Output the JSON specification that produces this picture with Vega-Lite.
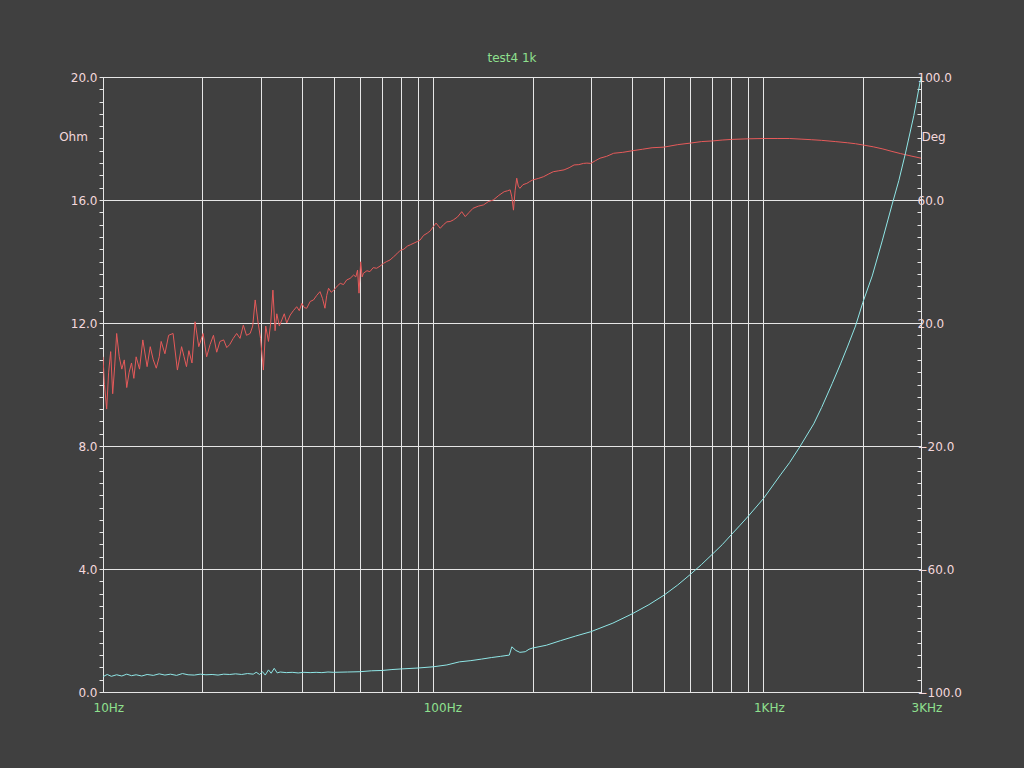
{
  "$schema": "https://vega.github.io/schema/vega-lite/v6.json",
  "width": 818,
  "height": 615,
  "autosize": {"type": "none"},
  "padding": {"left": 103, "top": 77, "right": 103, "bottom": 76},
  "background": "#404040",
  "title": {"text": "test4 1k", "color": "#8fe08f", "font": "DejaVu Sans", "fontSize": 12, "fontWeight": "normal", "offset": 6},
  "config": {
    "view": {"stroke": "#e6e6e6", "strokeWidth": 1},
    "axis": {"labelFont": "DejaVu Sans", "titleFont": "DejaVu Sans", "labelFontSize": 12, "titleFontSize": 12, "titleFontWeight": "normal", "labelOverlap": false, "labelFlush": false, "labelBound": false}
  },
  "datasets": {
    "ohm": [
      {"f": 10.0, "v": 10.9}, {"f": 10.1, "v": 10.0}, {"f": 10.26, "v": 9.2}, {"f": 10.4, "v": 10.4}, {"f": 10.55, "v": 11.07},
      {"f": 10.7, "v": 9.7}, {"f": 10.85, "v": 10.6}, {"f": 11.0, "v": 11.66}, {"f": 11.2, "v": 10.9}, {"f": 11.4, "v": 10.5},
      {"f": 11.6, "v": 10.8}, {"f": 11.8, "v": 9.9}, {"f": 12.0, "v": 10.4}, {"f": 12.2, "v": 10.7}, {"f": 12.4, "v": 10.2},
      {"f": 12.6, "v": 10.9}, {"f": 12.9, "v": 10.5}, {"f": 13.2, "v": 11.45}, {"f": 13.6, "v": 10.58}, {"f": 13.9, "v": 11.23},
      {"f": 14.2, "v": 10.8}, {"f": 14.5, "v": 10.53}, {"f": 14.8, "v": 10.9}, {"f": 15.0, "v": 11.4}, {"f": 15.4, "v": 11.0},
      {"f": 15.8, "v": 11.6}, {"f": 16.3, "v": 11.66}, {"f": 16.8, "v": 10.47}, {"f": 17.3, "v": 11.23}, {"f": 17.6, "v": 10.9},
      {"f": 17.9, "v": 10.58}, {"f": 18.2, "v": 11.1}, {"f": 18.6, "v": 10.7}, {"f": 19.0, "v": 12.04}, {"f": 19.5, "v": 11.23},
      {"f": 20.1, "v": 11.66}, {"f": 20.6, "v": 10.9}, {"f": 21.1, "v": 11.3}, {"f": 21.6, "v": 11.6}, {"f": 22.1, "v": 11.05},
      {"f": 22.6, "v": 11.4}, {"f": 23.2, "v": 11.45}, {"f": 23.7, "v": 11.2}, {"f": 24.2, "v": 11.3}, {"f": 24.8, "v": 11.5},
      {"f": 25.4, "v": 11.66}, {"f": 26.0, "v": 11.5}, {"f": 26.6, "v": 11.93}, {"f": 27.2, "v": 11.6}, {"f": 27.9, "v": 11.66},
      {"f": 28.4, "v": 11.9}, {"f": 28.9, "v": 12.75}, {"f": 29.5, "v": 12.0}, {"f": 30.0, "v": 11.5}, {"f": 30.6, "v": 10.47},
      {"f": 31.1, "v": 11.9}, {"f": 31.7, "v": 11.4}, {"f": 32.2, "v": 12.0}, {"f": 32.7, "v": 13.07}, {"f": 33.2, "v": 11.75},
      {"f": 33.6, "v": 12.3}, {"f": 34.2, "v": 11.9}, {"f": 34.8, "v": 12.1}, {"f": 35.4, "v": 12.3}, {"f": 36.0, "v": 12.0},
      {"f": 36.9, "v": 12.26}, {"f": 37.7, "v": 12.4}, {"f": 38.6, "v": 12.53}, {"f": 39.3, "v": 12.4}, {"f": 40.0, "v": 12.64},
      {"f": 40.7, "v": 12.5}, {"f": 41.4, "v": 12.48}, {"f": 42.4, "v": 12.7}, {"f": 43.4, "v": 12.75}, {"f": 44.4, "v": 12.9},
      {"f": 45.4, "v": 13.02}, {"f": 46.2, "v": 12.8}, {"f": 47.0, "v": 12.48}, {"f": 47.6, "v": 12.9}, {"f": 48.2, "v": 13.13},
      {"f": 49.1, "v": 13.0}, {"f": 50.0, "v": 13.07}, {"f": 51.2, "v": 13.2}, {"f": 52.3, "v": 13.29}, {"f": 53.5, "v": 13.25},
      {"f": 54.7, "v": 13.4}, {"f": 56.0, "v": 13.45}, {"f": 57.4, "v": 13.56}, {"f": 58.3, "v": 13.5}, {"f": 59.0, "v": 13.72},
      {"f": 59.6, "v": 12.97}, {"f": 60.3, "v": 13.99}, {"f": 60.9, "v": 13.5}, {"f": 61.5, "v": 13.62}, {"f": 63.0, "v": 13.7},
      {"f": 64.3, "v": 13.67}, {"f": 65.8, "v": 13.8}, {"f": 67.4, "v": 13.78}, {"f": 69.0, "v": 13.85}, {"f": 70.7, "v": 13.94},
      {"f": 72.3, "v": 14.0}, {"f": 74.0, "v": 14.05}, {"f": 75.8, "v": 14.15}, {"f": 77.6, "v": 14.25}, {"f": 79.4, "v": 14.36},
      {"f": 81.5, "v": 14.4}, {"f": 83.5, "v": 14.5}, {"f": 85.5, "v": 14.55}, {"f": 87.5, "v": 14.6}, {"f": 89.5, "v": 14.65},
      {"f": 91.3, "v": 14.7}, {"f": 93.5, "v": 14.85}, {"f": 95.9, "v": 14.92}, {"f": 98.0, "v": 15.0}, {"f": 100, "v": 15.13},
      {"f": 102, "v": 15.25}, {"f": 105, "v": 15.08}, {"f": 107.5, "v": 15.2}, {"f": 110, "v": 15.29}, {"f": 112.5, "v": 15.3},
      {"f": 115, "v": 15.35}, {"f": 118.5, "v": 15.45}, {"f": 122, "v": 15.62}, {"f": 125, "v": 15.46}, {"f": 128.5, "v": 15.6},
      {"f": 132, "v": 15.73}, {"f": 137, "v": 15.8}, {"f": 142, "v": 15.84}, {"f": 147, "v": 15.95}, {"f": 152, "v": 16.0},
      {"f": 158, "v": 16.15}, {"f": 164, "v": 16.27}, {"f": 168, "v": 16.3}, {"f": 171, "v": 16.33}, {"f": 173, "v": 16.1},
      {"f": 175, "v": 15.67}, {"f": 177, "v": 16.3}, {"f": 179, "v": 16.71}, {"f": 181, "v": 16.45}, {"f": 183, "v": 16.38},
      {"f": 187, "v": 16.5}, {"f": 192, "v": 16.54}, {"f": 196, "v": 16.6}, {"f": 200, "v": 16.65}, {"f": 208, "v": 16.7},
      {"f": 216, "v": 16.76}, {"f": 224, "v": 16.85}, {"f": 231, "v": 16.92}, {"f": 240, "v": 16.95}, {"f": 249, "v": 16.98},
      {"f": 258, "v": 17.05}, {"f": 267, "v": 17.14}, {"f": 276, "v": 17.15}, {"f": 285, "v": 17.19}, {"f": 292, "v": 17.2},
      {"f": 300, "v": 17.19}, {"f": 310, "v": 17.28}, {"f": 320, "v": 17.36}, {"f": 335, "v": 17.42}, {"f": 352, "v": 17.52},
      {"f": 375, "v": 17.55}, {"f": 400, "v": 17.6}, {"f": 430, "v": 17.65}, {"f": 460, "v": 17.7}, {"f": 500, "v": 17.72},
      {"f": 550, "v": 17.8}, {"f": 600, "v": 17.85}, {"f": 650, "v": 17.9}, {"f": 700, "v": 17.92}, {"f": 750, "v": 17.95},
      {"f": 800, "v": 17.97}, {"f": 900, "v": 17.99}, {"f": 1000, "v": 18.0}, {"f": 1100, "v": 18.0}, {"f": 1200, "v": 18.0},
      {"f": 1300, "v": 17.98}, {"f": 1400, "v": 17.96}, {"f": 1500, "v": 17.94}, {"f": 1650, "v": 17.9}, {"f": 1800, "v": 17.86},
      {"f": 1900, "v": 17.83}, {"f": 2000, "v": 17.79}, {"f": 2150, "v": 17.73}, {"f": 2300, "v": 17.66}, {"f": 2450, "v": 17.58},
      {"f": 2600, "v": 17.51}, {"f": 2800, "v": 17.43}, {"f": 3000, "v": 17.36}
    ],
    "deg": [
      {"f": 10.0, "v": -95.0}, {"f": 10.3, "v": -94.3}, {"f": 10.6, "v": -94.9}, {"f": 11.0, "v": -94.4}, {"f": 11.4, "v": -94.8},
      {"f": 11.8, "v": -94.2}, {"f": 12.2, "v": -94.7}, {"f": 12.6, "v": -94.4}, {"f": 13.1, "v": -94.8}, {"f": 13.6, "v": -94.3},
      {"f": 14.2, "v": -94.6}, {"f": 14.8, "v": -94.1}, {"f": 15.4, "v": -94.5}, {"f": 16.0, "v": -94.2}, {"f": 16.7, "v": -94.6},
      {"f": 17.4, "v": -94.0}, {"f": 18.1, "v": -94.4}, {"f": 18.9, "v": -94.5}, {"f": 19.7, "v": -94.2}, {"f": 20.5, "v": -94.4},
      {"f": 21.4, "v": -94.3}, {"f": 22.3, "v": -94.5}, {"f": 23.2, "v": -94.2}, {"f": 24.2, "v": -94.3}, {"f": 25.2, "v": -94.1},
      {"f": 26.3, "v": -94.3}, {"f": 27.4, "v": -94.0}, {"f": 28.5, "v": -94.2}, {"f": 29.1, "v": -93.6}, {"f": 29.8, "v": -94.3},
      {"f": 30.4, "v": -93.4}, {"f": 31.0, "v": -94.5}, {"f": 31.7, "v": -92.8}, {"f": 32.3, "v": -93.9}, {"f": 33.0, "v": -92.3},
      {"f": 33.7, "v": -93.8}, {"f": 34.4, "v": -93.5}, {"f": 35.9, "v": -93.7}, {"f": 37.4, "v": -93.6}, {"f": 39.0, "v": -93.8},
      {"f": 40.6, "v": -93.6}, {"f": 42.4, "v": -93.7}, {"f": 44.2, "v": -93.6}, {"f": 46.0, "v": -93.7}, {"f": 48.0, "v": -93.5},
      {"f": 50, "v": -93.6}, {"f": 55, "v": -93.5}, {"f": 60, "v": -93.4}, {"f": 65, "v": -93.1}, {"f": 70, "v": -93.0},
      {"f": 75, "v": -92.7}, {"f": 80, "v": -92.5}, {"f": 90, "v": -92.2}, {"f": 100, "v": -91.8}, {"f": 110, "v": -91.2},
      {"f": 120, "v": -90.2}, {"f": 130, "v": -89.8}, {"f": 140, "v": -89.3}, {"f": 150, "v": -88.8}, {"f": 160, "v": -88.4},
      {"f": 170, "v": -88.0}, {"f": 173, "v": -85.3}, {"f": 178, "v": -86.5}, {"f": 183, "v": -87.1}, {"f": 190, "v": -86.9},
      {"f": 195, "v": -86.1}, {"f": 200, "v": -85.7}, {"f": 220, "v": -84.8}, {"f": 243, "v": -83.3}, {"f": 270, "v": -81.8},
      {"f": 300, "v": -80.4}, {"f": 350, "v": -77.6}, {"f": 400, "v": -74.6}, {"f": 450, "v": -71.6}, {"f": 500, "v": -68.5},
      {"f": 550, "v": -65.2}, {"f": 600, "v": -61.8}, {"f": 650, "v": -58.5}, {"f": 700, "v": -55.2}, {"f": 750, "v": -52.1},
      {"f": 800, "v": -48.8}, {"f": 850, "v": -45.75}, {"f": 900, "v": -42.8}, {"f": 1000, "v": -37.1}, {"f": 1126, "v": -29.4},
      {"f": 1200, "v": -25.4}, {"f": 1288, "v": -20.3}, {"f": 1420, "v": -12.8}, {"f": 1500, "v": -7.5}, {"f": 1615, "v": 0.3},
      {"f": 1712, "v": 6.7}, {"f": 1800, "v": 12.5}, {"f": 1900, "v": 19.0}, {"f": 2000, "v": 26.7}, {"f": 2135, "v": 35.3},
      {"f": 2289, "v": 46.7}, {"f": 2455, "v": 58.7}, {"f": 2570, "v": 66.3}, {"f": 2693, "v": 75.3}, {"f": 2854, "v": 87.5},
      {"f": 3000, "v": 100}
    ]
  },
  "layer": [
    {
      "data": {"name": "ohm"},
      "mark": {"type": "line", "color": "#e65a5a", "strokeWidth": 1, "clip": true},
      "encoding": {
        "x": {
          "field": "f", "type": "quantitative",
          "scale": {"type": "log", "domain": [10, 3000], "nice": false},
          "axis": {
            "values": [10, 20, 30, 40, 50, 60, 70, 80, 90, 100, 200, 300, 400, 500, 600, 700, 800, 900, 1000, 2000, 3000],
            "labelExpr": "datum.value == 10 ? '10Hz' : datum.value == 100 ? '100Hz' : datum.value == 1000 ? '1KHz' : datum.value == 3000 ? '3KHz' : ''",
            "ticks": false, "domain": false, "grid": true, "gridColor": "#e6e6e6", "gridOpacity": 1,
            "labelColor": "#8fe08f", "labelAlign": "left", "labelOffset": -10, "labelPadding": 10, "title": null
          }
        },
        "y": {
          "field": "v", "type": "quantitative",
          "scale": {"domain": [0, 20], "nice": false, "zero": false},
          "axis": {
            "values": [0, 0.4, 0.8, 1.2, 1.6, 2, 2.4, 2.8, 3.2, 3.6, 4, 4.4, 4.8, 5.2, 5.6, 6, 6.4, 6.8, 7.2, 7.6, 8, 8.4, 8.8, 9.2, 9.6, 10, 10.4, 10.8, 11.2, 11.6, 12, 12.4, 12.8, 13.2, 13.6, 14, 14.4, 14.8, 15.2, 15.6, 16, 16.4, 16.8, 17.2, 17.6, 18, 18.4, 18.8, 19.2, 19.6, 20],
            "labelExpr": "datum.value % 4 === 0 ? format(datum.value, '.1f') : ''",
            "grid": true, "gridColor": "#e6e6e6",
            "gridOpacity": {"condition": {"test": "datum.value % 4 === 0", "value": 1}, "value": 0},
            "tickColor": "#e6e6e6", "tickSize": 4, "domainColor": "#e6e6e6",
            "labelColor": "#f4d8dc", "labelPadding": 2,
            "title": "Ohm", "titleAngle": 0, "titleX": -30, "titleY": 59, "titleAlign": "center", "titleBaseline": "middle", "titleColor": "#f4d8dc"
          }
        }
      }
    },
    {
      "data": {"name": "deg"},
      "mark": {"type": "line", "color": "#8fe6e6", "strokeWidth": 1, "clip": true},
      "encoding": {
        "x": {"field": "f", "type": "quantitative", "scale": {"type": "log", "domain": [10, 3000], "nice": false}},
        "y": {
          "field": "v", "type": "quantitative",
          "scale": {"domain": [-100, 100], "nice": false, "zero": false},
          "axis": {
            "orient": "right",
            "values": [-100, -96, -92, -88, -84, -80, -76, -72, -68, -64, -60, -56, -52, -48, -44, -40, -36, -32, -28, -24, -20, -16, -12, -8, -4, 0, 4, 8, 12, 16, 20, 24, 28, 32, 36, 40, 44, 48, 52, 56, 60, 64, 68, 72, 76, 80, 84, 88, 92, 96, 100],
            "labelExpr": "(datum.value + 100) % 40 === 0 ? format(datum.value, '.1f') : ''",
            "grid": false, "tickColor": "#e6e6e6", "tickSize": -4, "domainColor": "#e6e6e6",
            "labelColor": "#f4d8dc", "labelPadding": 0,
            "title": "Deg", "titleAngle": 0, "titleX": 0, "titleY": 59, "titleAlign": "left", "titleBaseline": "middle", "titleColor": "#f4d8dc"
          }
        }
      }
    }
  ],
  "resolve": {"scale": {"y": "independent"}}
}
